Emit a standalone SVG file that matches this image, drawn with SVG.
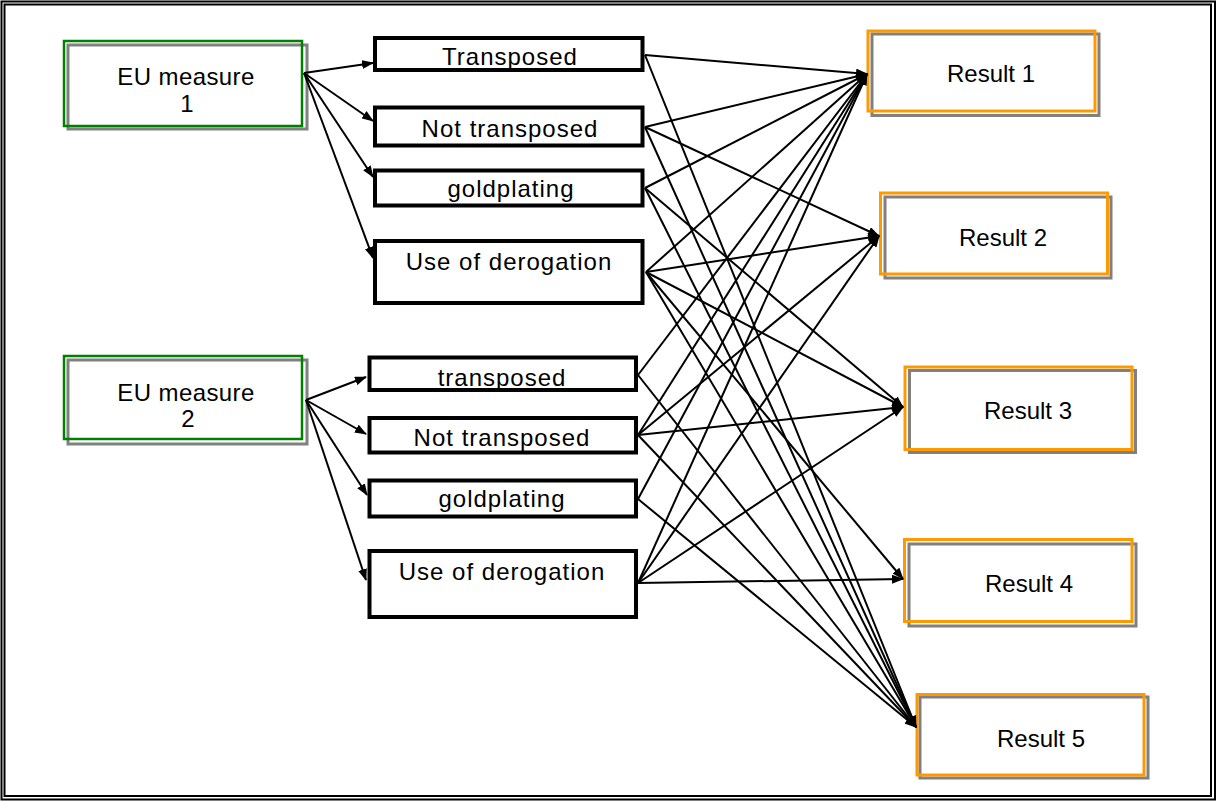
<svg xmlns="http://www.w3.org/2000/svg" width="1217" height="801" viewBox="0 0 1217 801">
  <defs>
    <marker id="arrow" markerUnits="userSpaceOnUse" markerWidth="12" markerHeight="9" refX="11" refY="4.5" orient="auto">
      <path d="M0,0 L12,4.5 L0,9 z" fill="#000"/>
    </marker>
    <style>
      text { font-family: "Liberation Sans", Arial, sans-serif; font-size: 24px; fill: #000; text-anchor: middle; }
      .wide { letter-spacing: 1px; }
      .frame { fill: none; stroke: #000; stroke-width: 2; }
      .measure { fill: none; stroke: #008000; stroke-width: 2.5; }
      .result { fill: none; stroke: #ff9900; stroke-width: 3; }
      .shadow { fill: #fff; stroke: #808080; stroke-width: 3; }
      .state { fill: #fff; stroke: #000; stroke-width: 4; }
      #connectors line { stroke: #000; stroke-width: 2; marker-end: url(#arrow); }
    </style>
  </defs>

  <rect width="1217" height="801" fill="#fff"/>
  <!-- double frame -->
  <rect class="frame" x="1.5" y="1.5" width="1213.5" height="798"/>
  <rect class="frame" x="4.5" y="4.5" width="1206.5" height="791.5"/>

  <!-- EU measures -->
  <g id="eu-measure-1">
    <rect class="shadow" x="68" y="45" width="239" height="84"/>
    <rect class="measure" x="64" y="41" width="238" height="85"/>
    <text class="wide" x="186" y="85" style="letter-spacing:0.4px">EU measure</text>
    <text x="187" y="112">1</text>
  </g>
  <g id="eu-measure-2">
    <rect class="shadow" x="68" y="360" width="239" height="84"/>
    <rect class="measure" x="64" y="356" width="238" height="83"/>
    <text class="wide" x="186" y="401" style="letter-spacing:0.4px">EU measure</text>
    <text x="188" y="427">2</text>
  </g>

  <!-- transposition states, measure 1 -->
  <g id="m1-transposed">
    <rect class="state" x="375" y="38" width="267.5" height="32"/>
    <text class="wide" x="510" y="65">Transposed</text>
  </g>
  <g id="m1-not-transposed">
    <rect class="state" x="375" y="107.5" width="267.5" height="38"/>
    <text class="wide" x="510" y="137">Not transposed</text>
  </g>
  <g id="m1-goldplating">
    <rect class="state" x="375" y="170.5" width="267.5" height="35"/>
    <text class="wide" x="511" y="197">goldplating</text>
  </g>
  <g id="m1-derogation">
    <rect class="state" x="375" y="241" width="267.5" height="62"/>
    <text class="wide" x="509" y="270">Use of derogation</text>
  </g>

  <!-- transposition states, measure 2 -->
  <g id="m2-transposed">
    <rect class="state" x="369.5" y="357.5" width="266.5" height="32.5"/>
    <text class="wide" x="502" y="386">transposed</text>
  </g>
  <g id="m2-not-transposed">
    <rect class="state" x="369.5" y="418" width="266.5" height="34.5"/>
    <text class="wide" x="502" y="446">Not transposed</text>
  </g>
  <g id="m2-goldplating">
    <rect class="state" x="369.5" y="480.5" width="266.5" height="36"/>
    <text class="wide" x="502" y="507">goldplating</text>
  </g>
  <g id="m2-derogation">
    <rect class="state" x="369.5" y="551" width="266.5" height="66"/>
    <text class="wide" x="502" y="580">Use of derogation</text>
  </g>

  <!-- results -->
  <g id="result-1">
    <rect class="shadow" x="872" y="34" width="227" height="81.5"/>
    <rect class="result" x="868" y="31" width="227" height="80"/>
    <text x="991" y="82">Result 1</text>
  </g>
  <g id="result-2">
    <rect class="shadow" x="885" y="197" width="226" height="81"/>
    <rect class="result" x="880.5" y="193" width="227" height="81"/>
    <text x="1003" y="246">Result 2</text>
  </g>
  <g id="result-3">
    <rect class="shadow" x="909.5" y="370.5" width="226" height="82"/>
    <rect class="result" x="905" y="367" width="227" height="82.5"/>
    <text x="1028" y="419">Result 3</text>
  </g>
  <g id="result-4">
    <rect class="shadow" x="909" y="544" width="227" height="82"/>
    <rect class="result" x="904.5" y="539.5" width="227.5" height="82"/>
    <text x="1029" y="592">Result 4</text>
  </g>
  <g id="result-5">
    <rect class="shadow" x="920" y="697" width="228" height="81"/>
    <rect class="result" x="917" y="694.5" width="227" height="80.5"/>
    <text x="1041" y="747">Result 5</text>
  </g>

  <g id="connectors">
    <!-- measure 1 to its states -->
    <line x1="304" y1="73" x2="373" y2="63"/>
    <line x1="304" y1="73" x2="373" y2="121"/>
    <line x1="304" y1="73" x2="373" y2="177"/>
    <line x1="304" y1="73" x2="373" y2="258"/>
    <!-- measure 2 to its states -->
    <line x1="306" y1="400" x2="366" y2="377"/>
    <line x1="306" y1="400" x2="366" y2="434"/>
    <line x1="306" y1="400" x2="367" y2="495"/>
    <line x1="306" y1="400" x2="366" y2="580"/>

    <!-- measure 1 states to results -->
    <line x1="645" y1="55" x2="867" y2="74"/>
    <line x1="645" y1="55" x2="916" y2="727"/>

    <line x1="645" y1="127" x2="867" y2="74"/>
    <line x1="645" y1="127" x2="879" y2="236"/>
    <line x1="645" y1="127" x2="916" y2="727"/>

    <line x1="645" y1="188" x2="867" y2="74"/>
    <line x1="645" y1="188" x2="903" y2="407"/>
    <line x1="645" y1="188" x2="916" y2="727"/>

    <line x1="646" y1="272" x2="867" y2="74"/>
    <line x1="646" y1="272" x2="879" y2="236"/>
    <line x1="646" y1="272" x2="903" y2="407"/>
    <line x1="646" y1="272" x2="903" y2="579"/>
    <line x1="646" y1="272" x2="916" y2="727"/>

    <!-- measure 2 states to results -->
    <line x1="638" y1="375" x2="867" y2="74"/>
    <line x1="638" y1="375" x2="916" y2="727"/>

    <line x1="638" y1="435" x2="867" y2="74"/>
    <line x1="638" y1="435" x2="879" y2="236"/>
    <line x1="638" y1="435" x2="903" y2="407"/>
    <line x1="638" y1="435" x2="916" y2="727"/>

    <line x1="638" y1="499" x2="867" y2="74"/>
    <line x1="638" y1="499" x2="916" y2="727"/>

    <line x1="638" y1="583" x2="867" y2="74"/>
    <line x1="638" y1="583" x2="879" y2="236"/>
    <line x1="638" y1="583" x2="903" y2="407"/>
    <line x1="638" y1="583" x2="903" y2="579"/>
  </g>
</svg>
